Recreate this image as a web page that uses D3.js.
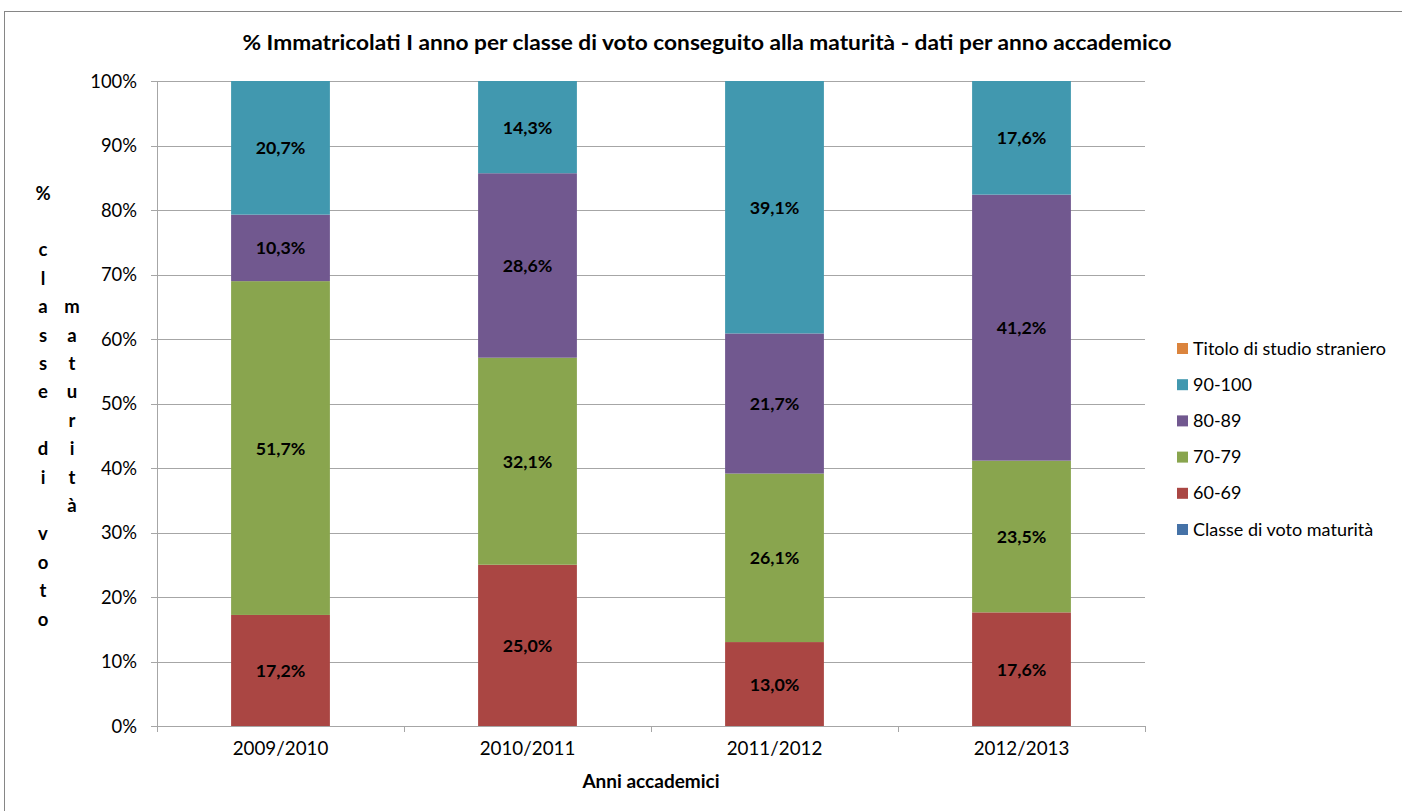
<!DOCTYPE html>
<html>
<head>
<meta charset="utf-8">
<script src="https://cdn.jsdelivr.net/npm/d3@7"></script>
<style>
  body { margin: 0; background: #fff; }
  text { font-family: Lato, "Open Sans", sans-serif; fill: #000; }
</style>
</head>
<body>
<svg id="chart" width="1402" height="811"></svg>
<script>
// Academic years (categories)
var years = ["2009/2010", "2010/2011", "2011/2012", "2012/2013"];

// Series values in % per year
var v6069 = [17.2, 25.0, 13.0, 17.6];
var v7079 = [51.7, 32.1, 26.1, 23.5];
var v8089 = [10.3, 28.6, 21.7, 41.2];
var v90100 = [20.7, 14.3, 39.1, 17.6];
var vStraniero = [0, 0, 0, 0];
var vClasse = [0, 0, 0, 0];

// Series names, in stacking order (bottom first)
var seriesNames = ["Classe di voto maturità", "60-69", "70-79", "80-89", "90-100", "Titolo di studio straniero"];
var seriesColors = ["#4572A7", "#AA4643", "#89A54E", "#71588F", "#4198AF", "#DB843D"];

// Y tick values
var yTicks = [0, 0.1, 0.2, 0.3, 0.4, 0.5, 0.6, 0.7, 0.8, 0.9, 1];

// Build rows for d3.stack
var rows = years.map(function (y, i) {
    return {
        year: y,
        "Classe di voto maturità": vClasse[i],
        "60-69": v6069[i],
        "70-79": v7079[i],
        "80-89": v8089[i],
        "90-100": v90100[i],
        "Titolo di studio straniero": vStraniero[i]
    };
});

function drawChart() {
    var svg = d3.select("#chart");

    // Outer chart frame
    svg.append("rect")
        .attr("x", 4.5).attr("y", 11.5)
        .attr("width", 1410).attr("height", 820)
        .attr("fill", "none")
        .attr("stroke", "#868686")
        .attr("stroke-width", 1);

    // Plot area
    var plotL = 157, plotR = 1145, plotT = 81, plotB = 726;

    var x = d3.scaleBand().domain(years).range([plotL, plotR]).padding(0);
    var y = d3.scaleLinear().domain([0, 1]).range([plotB, plotT]);
    var barW = x.bandwidth() * 0.4;

    // Gridlines
    svg.append("g").selectAll("line")
        .data(yTicks)
        .enter()
        .append("line")
        .attr("x1", plotL - 6).attr("x2", plotR)
        .attr("y1", function (d) { return Math.round(y(d)) + 0.5; })
        .attr("y2", function (d) { return Math.round(y(d)) + 0.5; })
        .attr("stroke", "#a6a6a6");

    // Y tick labels
    svg.append("g").selectAll("text")
        .data(yTicks)
        .enter()
        .append("text")
        .attr("x", 137)
        .attr("y", function (d) { return y(d) + 6.5; })
        .attr("text-anchor", "end")
        .style("font-size", "18.4px")
        .text(function (d) { return Math.round(d * 100) + "%"; });

    // Stack the data, normalised to 100%
    var stack = d3.stack().keys(seriesNames).offset(d3.stackOffsetExpand);
    var stacked = stack(rows);

    var color = d3.scaleOrdinal().domain(seriesNames).range(seriesColors);

    // Bars
    var layers = svg.append("g").selectAll("g")
        .data(stacked)
        .enter()
        .append("g")
        .attr("fill", function (d) { return color(d.key); });

    layers.selectAll("rect")
        .data(function (d) { return d; })
        .enter()
        .append("rect")
        .attr("x", function (d) { return x(d.data.year) + (x.bandwidth() - barW) / 2; })
        .attr("y", function (d) { return y(d[1]); })
        .attr("width", barW)
        .attr("height", function (d) { return y(d[0]) - y(d[1]); });

    // Value labels
    layers.selectAll("text")
        .data(function (d) {
            return d.filter(function (s) { return s.data[d.key] > 0; })
                .map(function (s) { return { lo: s[0], hi: s[1], year: s.data.year, val: s.data[d.key] }; });
        })
        .enter()
        .append("text")
        .attr("x", function (d) { return x(d.year) + x.bandwidth() / 2; })
        .attr("y", function (d) { return (y(d.lo) + y(d.hi)) / 2 + 6.5; })
        .attr("text-anchor", "middle")
        .style("font-size", "17.8px")
        .style("font-weight", "bold")
        .style("fill", "#000")
        .text(function (d) { return d.val.toFixed(1).replace(".", ",") + "%"; });

    // Axes lines
    svg.append("line")
        .attr("x1", plotL + 0.5).attr("x2", plotL + 0.5)
        .attr("y1", plotT).attr("y2", plotB)
        .attr("stroke", "#a6a6a6");
    svg.append("line")
        .attr("x1", plotL).attr("x2", plotR)
        .attr("y1", plotB + 0.5).attr("y2", plotB + 0.5)
        .attr("stroke", "#a6a6a6");

    // X ticks at category boundaries
    var xBounds = years.map(function (d) { return x(d); }).concat([plotR]);
    svg.append("g").selectAll("line")
        .data(xBounds)
        .enter()
        .append("line")
        .attr("x1", function (d) { return Math.round(d) + 0.5; })
        .attr("x2", function (d) { return Math.round(d) + 0.5; })
        .attr("y1", plotB).attr("y2", plotB + 6)
        .attr("stroke", "#a6a6a6");

    // X tick labels
    svg.append("g").selectAll("text")
        .data(years)
        .enter()
        .append("text")
        .attr("x", function (d) { return x(d) + x.bandwidth() / 2; })
        .attr("y", 755)
        .attr("text-anchor", "middle")
        .style("font-size", "18.8px")
        .text(function (d) { return d; });

    // Title
    svg.append("text")
        .attr("x", 707).attr("y", 50)
        .attr("text-anchor", "middle")
        .style("font-size", "21px")
        .style("font-weight", "bold")
        .attr("textLength", 929)
        .attr("lengthAdjust", "spacingAndGlyphs")
        .text("% Immatricolati I anno per classe di voto conseguito alla maturità - dati  per anno accademico");

    // X axis title
    svg.append("text")
        .attr("x", 651).attr("y", 788)
        .attr("text-anchor", "middle")
        .style("font-size", "19px")
        .style("font-weight", "bold")
        .text("Anni accademici");

    // Y axis title, letters stacked in two columns like the original
    var col1 = ["%", "", "c", "l", "a", "s", "s", "e", "", "d", "i", "", "v", "o", "t", "o"];
    var col2 = ["m", "a", "t", "u", "r", "i", "t", "à"];
    var rowH = 28.4;
    var yTitle = svg.append("g").style("font-size", "18.5px").style("font-weight", "bold");
    yTitle.selectAll("text.c1")
        .data(col1)
        .enter()
        .append("text")
        .attr("class", "c1")
        .attr("x", 43)
        .attr("y", function (d, i) { return 199.5 + i * rowH; })
        .attr("text-anchor", "middle")
        .text(function (d) { return d; });
    yTitle.selectAll("text.c2")
        .data(col2)
        .enter()
        .append("text")
        .attr("class", "c2")
        .attr("x", 72)
        .attr("y", function (d, i) { return 199.5 + (i + 4) * rowH; })
        .attr("text-anchor", "middle")
        .text(function (d) { return d; });

    // Legend, top item is the last series
    var legendItems = seriesNames.slice().reverse();
    var legend = svg.append("g").selectAll("g")
        .data(legendItems)
        .enter()
        .append("g")
        .attr("transform", function (d, i) { return "translate(1177," + (348 + i * 36.2) + ")"; });

    legend.append("rect")
        .attr("x", 0).attr("y", -5)
        .attr("width", 11).attr("height", 11)
        .attr("fill", function (d) { return color(d); });

    legend.append("text")
        .attr("x", 16).attr("y", 6.5)
        .style("font-size", "18px")
        .text(function (d) { return d; });
}

drawChart();
</script>
</body>
</html>
